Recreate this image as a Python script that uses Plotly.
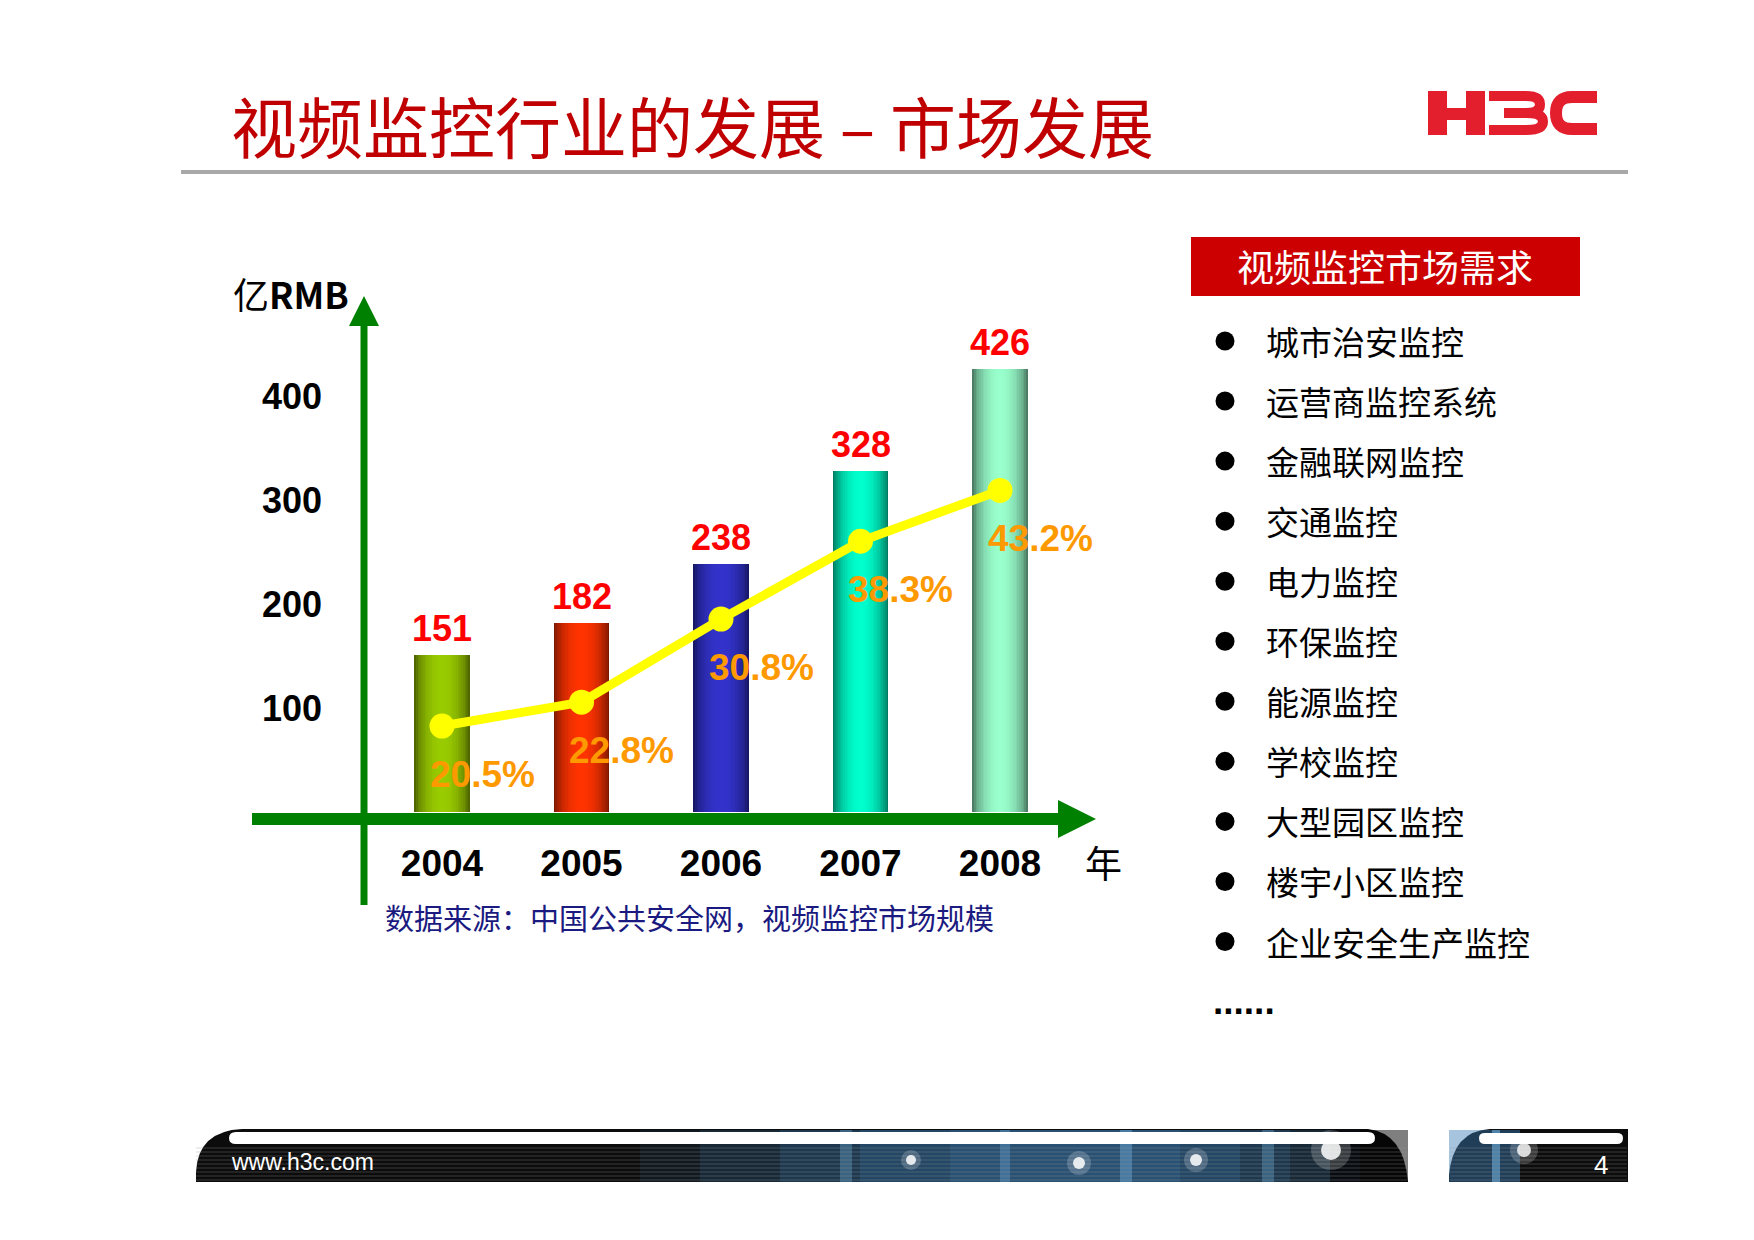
import math
import plotly.graph_objects as go

W, H = 1754, 1240

# ---------------- data ----------------
years = ["2004", "2005", "2006", "2007", "2008"]
market = [151, 182, 238, 328, 426]            # 亿RMB
growth = [20.5, 22.8, 30.8, 38.3, 43.2]       # %
growth_labels = ["20.5%", "22.8%", "30.8%", "38.3%", "43.2%"]
y_ticks = [100, 200, 300, 400]
bar_center_colors = ["#99CC00", "#FF3300", "#3333CC", "#00FFCC", "#99FFCC"]
bar_edge_colors = ["#465800", "#6A1400", "#14145A", "#006650", "#426C57"]

title_text = "视频监控行业的发展 – 市场发展"
y_unit = "亿<b>RMB</b>"
x_unit = "年"
source_text = "数据来源：中国公共安全网，视频监控市场规模"
demand_title = "视频监控市场需求"
demand_items = ["城市治安监控", "运营商监控系统", "金融联网监控", "交通监控", "电力监控",
                "环保监控", "能源监控", "学校监控", "大型园区监控", "楼宇小区监控",
                "企业安全生产监控"]
footer_url = "www.h3c.com"
page_no = "4"

CJK = "Noto Sans CJK SC"
LAT = "Liberation Sans, Arial, sans-serif"


def px(x):
    return x / W


def py(y):
    return 1 - y / H


def hex2rgb(h):
    h = h.lstrip("#")
    return [int(h[i:i + 2], 16) for i in (0, 2, 4)]


def mix(a, b, t):
    ra, rb = hex2rgb(a), hex2rgb(b)
    return "rgb(%d,%d,%d)" % tuple(round(ra[i] + (rb[i] - ra[i]) * t) for i in range(3))


fig = go.Figure()

# ---- cylinder-like bars: stacked layers of narrowing bars ----
BAR_W = 0.40
N = 16
for k in range(N):
    f = 1 - (k + 0.5) / N
    t = math.sqrt(max(0.0, 1 - f * f)) ** 1.5
    cols = [mix(e, c, t) for e, c in zip(bar_edge_colors, bar_center_colors)]
    fig.add_bar(x=years, y=market, width=BAR_W * (1 - k / N),
                marker=dict(color=cols, line=dict(width=0)),
                showlegend=False, hoverinfo="skip" if k else "x+y")

# ---- growth line ----
fig.add_scatter(x=years, y=growth, yaxis="y2", mode="lines+markers",
                line=dict(color="#FFFF00", width=9),
                marker=dict(size=25, color="#FFFF00"),
                showlegend=False)

annotations = []
# value labels (category axes take the category index as position)
for i, v in enumerate(market):
    annotations.append(dict(x=i, y=v, xref="x", yref="y", text="<b>%d</b>" % v,
                            showarrow=False, yanchor="bottom", yshift=4,
                            font=dict(family=LAT, size=36, color="#FF0000")))
# growth labels
for i, (g, lab) in enumerate(zip(growth, growth_labels)):
    annotations.append(dict(x=i, y=g, xref="x", yref="y2", text="<b>%s</b>" % lab,
                            showarrow=False, xshift=40, yshift=-48,
                            font=dict(family=LAT, size=37, color="#FF9900")))

# title
annotations.append(dict(x=px(229), y=py(124), xref="paper", yref="paper", text=title_text,
                        showarrow=False, xanchor="left", yanchor="middle",
                        font=dict(family=CJK, size=66, color="#C00000")))
# units
annotations.append(dict(x=px(231), y=py(293), xref="paper", yref="paper", text=y_unit,
                        showarrow=False, xanchor="left", yanchor="middle",
                        font=dict(family=CJK, size=36, color="#000000")))
annotations.append(dict(x=px(1103), y=py(862), xref="paper", yref="paper", text=x_unit,
                        showarrow=False, xanchor="center", yanchor="middle",
                        font=dict(family=CJK, size=37, color="#000000")))
annotations.append(dict(x=px(383), y=py(917), xref="paper", yref="paper", text=source_text,
                        showarrow=False, xanchor="left", yanchor="middle",
                        font=dict(family=CJK, size=29, color="#1A1A80")))
# right panel
annotations.append(dict(x=px(1385), y=py(266), xref="paper", yref="paper", text=demand_title,
                        showarrow=False, xanchor="center", yanchor="middle",
                        font=dict(family=CJK, size=37, color="#FFFFFF")))
ROW0, ROWS = 341, 60.05
for i, item in enumerate(demand_items):
    annotations.append(dict(x=px(1264), y=py(ROW0 + ROWS * i), xref="paper", yref="paper", text=item,
                            showarrow=False, xanchor="left", yanchor="middle",
                            font=dict(family=CJK, size=33, color="#000000")))
annotations.append(dict(x=px(1211), y=py(1001), xref="paper", yref="paper", text="<b>......</b>",
                        showarrow=False, xanchor="left", yanchor="middle",
                        font=dict(family=LAT, size=37, color="#000000")))
# footer text
annotations.append(dict(x=px(229), y=py(1162), xref="paper", yref="paper", text=footer_url,
                        showarrow=False, xanchor="left", yanchor="middle",
                        font=dict(family=LAT, size=23, color="#FFFFFF")))
annotations.append(dict(x=px(1601), y=py(1165), xref="paper", yref="paper", text=page_no,
                        showarrow=False, xanchor="center", yanchor="middle",
                        font=dict(family=LAT, size=26, color="#FFFFFF")))

shapes = []


def line(x0, y0, x1, y1, color, width, layer="above"):
    shapes.append(dict(type="line", xref="paper", yref="paper", x0=px(x0), y0=py(y0),
                       x1=px(x1), y1=py(y1), line=dict(color=color, width=width), layer=layer))


def rect(x0, y0, x1, y1, fill, opacity=1.0, layer="above"):
    shapes.append(dict(type="rect", xref="paper", yref="paper", x0=px(x0), y0=py(y0),
                       x1=px(x1), y1=py(y1), fillcolor=fill, opacity=opacity,
                       line=dict(width=0), layer=layer))


def pathstr(cmds):
    s = ""
    for cmd, pts in cmds:
        s += cmd + " " + " ".join("%.5f,%.5f" % (px(a), py(b)) for a, b in pts) + " "
    return s


def path(cmds, fill, opacity=1.0, layer="above"):
    shapes.append(dict(type="path", xref="paper", yref="paper", path=pathstr(cmds) + "Z",
                       fillcolor=fill, opacity=opacity, line=dict(width=0), layer=layer))


def stroke(cmds, color, width):
    shapes.append(dict(type="path", xref="paper", yref="paper", path=pathstr(cmds),
                       fillcolor="rgba(0,0,0,0)", line=dict(color=color, width=width), layer="above"))


def circle(cx, cy, r, fill, opacity=1.0, layer="above"):
    shapes.append(dict(type="circle", xref="paper", yref="paper", x0=px(cx - r), y0=py(cy + r),
                       x1=px(cx + r), y1=py(cy - r), fillcolor=fill, opacity=opacity,
                       line=dict(width=0), layer=layer))


# title rule
line(181, 172, 1628, 172, "#A8A8A8", 4)

# H3C logo
LOGO = "#E31E2D"
rect(1428, 91, 1447, 135, LOGO)
rect(1466, 91, 1485, 135, LOGO)
rect(1446, 108, 1467, 120, LOGO)
stroke([("M", [(1489, 96)]), ("L", [(1526, 96)]), ("Q", [(1540, 96), (1540, 104.5)]),
        ("Q", [(1540, 113), (1526, 113)]), ("L", [(1504, 113)]),
        ("M", [(1526, 113)]), ("Q", [(1543, 113), (1543, 121.5)]),
        ("Q", [(1543, 130), (1526, 130)]), ("L", [(1489, 130)])], LOGO, 10)
stroke([("M", [(1597, 97)]), ("L", [(1572, 97)]), ("Q", [(1556, 97), (1556, 113)]),
        ("Q", [(1556, 129), (1572, 129)]), ("L", [(1597, 129)])], LOGO, 12)

# axes (green arrows)
GREEN = "#008000"
line(364, 905, 364, 322, GREEN, 7)
path([("M", [(349, 326)]), ("L", [(379, 326)]), ("L", [(364, 296)])], GREEN)
line(252, 819, 1060, 819, GREEN, 12)
path([("M", [(1058, 800)]), ("L", [(1058, 838)]), ("L", [(1096, 819)])], GREEN)
# red box
rect(1191, 237, 1580, 296, "#CC0000")
# bullets
for i in range(len(demand_items)):
    circle(1225, ROW0 + ROWS * i, 9.5, "#000000")

# footer main band
path([("M", [(196, 1182)]), ("L", [(196, 1172)]), ("Q", [(198, 1131), (242, 1129)]),
      ("L", [(1368, 1129)]), ("Q", [(1404, 1133), (1408, 1182)])], "#0C0C0C")
# blue light region
for x0, x1, op in [(640, 1360, 0.12), (700, 1330, 0.15), (780, 1290, 0.2), (860, 1240, 0.22),
                   (950, 1180, 0.2)]:
    rect(x0, 1130, x1, 1182, "#3A7DB5", op)
for x0, x1, op in [(840, 852, 0.35), (1000, 1010, 0.35), (1120, 1132, 0.45), (1262, 1274, 0.35)]:
    rect(x0, 1130, x1, 1182, "#6FB0E0", op)
rect(1330, 1130, 1408, 1182, "#000000", 0.5)
# scanlines
for yy in range(1148, 1182, 4):
    line(196, yy, 1407, yy, "rgba(150,150,150,0.35)", 1)
# glow spots
for cx, cy, r in [(911, 1160, 5), (1079, 1163, 6), (1196, 1160, 6), (1331, 1150, 10)]:
    circle(cx, cy, r * 2, "#FFFFFF", 0.2)
    circle(cx, cy, r, "#FFFFFF", 0.85)
# white rounded bar
path([("M", [(236, 1132)]), ("L", [(1368, 1132)]), ("Q", [(1375, 1132), (1375, 1138)]),
      ("Q", [(1375, 1144), (1368, 1144)]), ("L", [(236, 1144)]), ("Q", [(229, 1144), (229, 1138)]),
      ("Q", [(229, 1132), (236, 1132)])], "#FFFFFF")

# footer small block
path([("M", [(1449, 1182)]), ("L", [(1449, 1175)]), ("Q", [(1453, 1131), (1490, 1129)]),
      ("L", [(1628, 1129)]), ("L", [(1628, 1182)])], "#0C0C0C")
rect(1449, 1130, 1520, 1182, "#3A7DB5", 0.45)
rect(1492, 1130, 1500, 1182, "#6FB0E0", 0.6)
for yy in range(1148, 1182, 4):
    line(1450, yy, 1627, yy, "rgba(150,150,150,0.35)", 1)
circle(1524, 1150, 14, "#FFFFFF", 0.2)
circle(1524, 1150, 7, "#FFFFFF", 0.8)
path([("M", [(1485, 1133)]), ("L", [(1617, 1133)]), ("Q", [(1623, 1133), (1623, 1138)]),
      ("Q", [(1623, 1144), (1617, 1144)]), ("L", [(1485, 1144)]), ("Q", [(1479, 1144), (1479, 1138)]),
      ("Q", [(1479, 1133), (1485, 1133)])], "#FFFFFF")

# ---------------- axes mapping ----------------
X_LEFT, X_RIGHT = 365, 1094
CAT0, CAT_STEP = 442, 139.5
Y_ZERO, Y_TOP, PX_PER_UNIT = 812, 297, 1.04
Y2_SLOPE, Y2_MID_PX, Y2_MID = 10.38, 615.8, 31.12

fig.update_layout(
    width=W, height=H,
    margin=dict(l=0, r=0, t=0, b=0),
    paper_bgcolor="#FFFFFF", plot_bgcolor="rgba(0,0,0,0)",
    barmode="overlay", bargap=0,
    showlegend=False,
    xaxis=dict(domain=[px(X_LEFT), px(X_RIGHT)], type="category",
               range=[(X_LEFT - CAT0) / CAT_STEP, (X_RIGHT - CAT0) / CAT_STEP],
               showline=False, showgrid=False, zeroline=False, ticks="",
               ticklabelstandoff=26,
               tickfont=dict(family=LAT, size=37, color="#000000", weight="bold")),
    yaxis=dict(domain=[py(Y_ZERO), py(Y_TOP)], range=[0, (Y_ZERO - Y_TOP) / PX_PER_UNIT],
               tickvals=y_ticks, showline=False, showgrid=False, zeroline=False, ticks="",
               ticklabelstandoff=42,
               tickfont=dict(family=LAT, size=36, color="#000000", weight="bold")),
    yaxis2=dict(overlaying="y", visible=False,
                range=[Y2_MID - (Y_ZERO - Y2_MID_PX) / Y2_SLOPE, Y2_MID + (Y2_MID_PX - Y_TOP) / Y2_SLOPE]),
    annotations=annotations,
    shapes=shapes,
)

fig.write_html("out.html", config={"displayModeBar": False},
               post_script="document.body.style.margin='0';document.body.style.overflow='hidden';")
